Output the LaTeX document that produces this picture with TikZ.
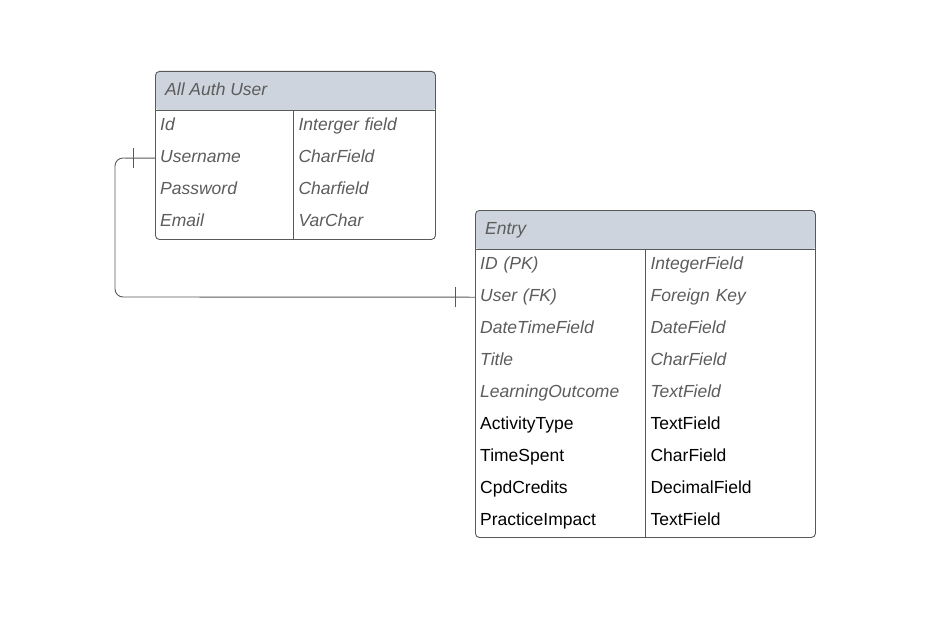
\documentclass[tikz,border=0pt]{standalone}
\usepackage{fontspec}
\setmainfont{Liberation Sans}
\usepackage{tikz}
\usetikzlibrary{positioning}
\definecolor{headfill}{HTML}{CED4DD}
\definecolor{edgegray}{HTML}{595959}
\definecolor{textgray}{HTML}{5C5C5C}

\begin{document}
\begin{tikzpicture}[x=1pt,y=-1pt,
   every node/.style={font=\fontsize{17.5}{21}\selectfont},
   table/.style={draw=edgegray, line width=0.9pt, rounded corners=4pt, anchor=north west, inner sep=0pt,
      path picture={\fill[headfill] (path picture bounding box.north west) rectangle ([yshift=-39pt]path picture bounding box.north east);}},
   cell/.style={anchor=north west, inner xsep=5pt, inner ysep=0pt, minimum height=32pt,
      text height=12.7pt, text depth=3.7pt, align=left},
   it/.style={text=textgray, font=\fontsize{17.5}{21}\selectfont\itshape},
   rm/.style={text=black},
   link/.style={draw=edgegray, line width=0.9pt}]
\useasboundingbox (0,0) rectangle (941,623);

% All Auth User
\node[table, minimum width=280pt, minimum height=168pt] (auth) at (155,71) {};
\node[cell, it, inner xsep=10pt, minimum height=39pt] (auth-head) at (auth.north west) {All Auth User};
\draw[link] ([yshift=-39pt]auth.north west) -- ([yshift=-39pt]auth.north east);
\draw[link] (293,110) -- (293,239);
\foreach \n/\k [count=\i] in {Id/Interger field, Username/CharField, Password/Charfield, Email/VarChar}{
   \node[cell, it, text width=128pt] (auth-\i) at (155,{78+32*\i}) {\n};
   \node[cell, it, text width=132pt, right=0pt of auth-\i] (auth-\i-type) {\k};
}

% Entry
\node[table, minimum width=340pt, minimum height=327pt] (entry) at (475,210) {};
\node[cell, it, inner xsep=10pt, minimum height=39pt] (entry-head) at (entry.north west) {Entry};
\draw[link] ([yshift=-39pt]entry.north west) -- ([yshift=-39pt]entry.north east);
\draw[link] (645,249) -- (645,537);
\foreach \n/\k/\s [count=\i] in {ID (PK)/IntegerField/it, User (FK)/Foreign Key/it, DateTimeField/DateField/it,
      Title/CharField/it, LearningOutcome/TextField/it, ActivityType/TextField/rm, TimeSpent/CharField/rm,
      CpdCredits/DecimalField/rm, PracticeImpact/TextField/rm}{
   \node[cell, \s, text width=160pt] (entry-\i) at (475,{217+32*\i}) {\n};
   \node[cell, \s, text width=160pt, right=0pt of entry-\i] (entry-\i-type) {\k};
}

% one to one
\coordinate (bend-a) at (115,158);
\coordinate (bend-b) at (115,297);
\draw[link, rounded corners=8pt] (auth-2.west) -- (bend-a) -- (bend-b) -- (entry-2.west);
\draw[link] ([xshift=-22pt,yshift=-10pt]auth-2.west) -- ([xshift=-22pt,yshift=10pt]auth-2.west);
\draw[link] ([xshift=-20pt,yshift=-10pt]entry-2.west) -- ([xshift=-20pt,yshift=10pt]entry-2.west);
\end{tikzpicture}
\end{document}
